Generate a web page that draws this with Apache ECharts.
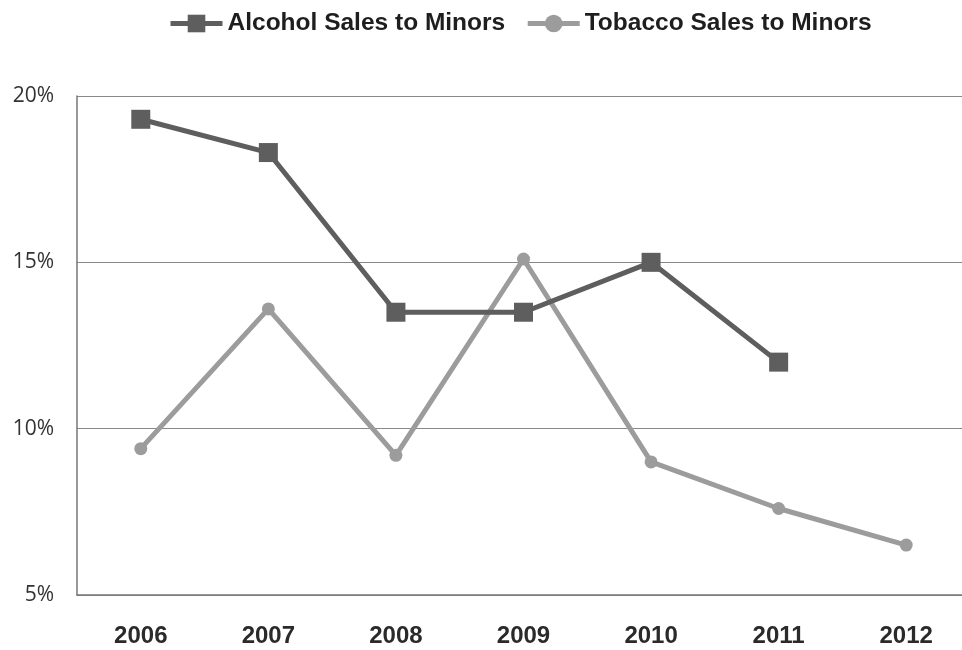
<!DOCTYPE html>
<html>
<head>
<meta charset="utf-8">
<script src="https://cdn.jsdelivr.net/npm/echarts@6/dist/echarts.min.js"></script>
<style>
  html, body { margin: 0; padding: 0; background: #fff; overflow: hidden; }
  #chart { width: 962px; height: 650px; }
</style>
</head>
<body>
<div id="chart"></div>
<script>
// Share of compliance checks resulting in a sale to minors, by year
const years = ['2006', '2007', '2008', '2009', '2010', '2011', '2012'];
const alcoholSales = [19.3, 18.3, 13.5, 13.5, 15.0, 12.0, null];
const tobaccoSales = [9.4, 13.6, 9.2, 15.1, 9.0, 7.6, 6.5];
const yTicks = [5, 10, 15, 20];

const chart = echarts.init(document.getElementById('chart'));
chart.setOption({
  animation: false,
  backgroundColor: '#ffffff',
  legend: {
    top: 6,
    left: 163,
    itemWidth: 52,
    itemHeight: 22,
    itemGap: 20,
    lineStyle: { width: 5 },
    textStyle: {
      fontFamily: 'Liberation Sans, Arial, sans-serif',
      fontWeight: 'bold',
      fontSize: 24.5,
      color: '#1e1e1e'
    },
    data: ['Alcohol Sales to Minors', 'Tobacco Sales to Minors']
  },
  grid: { left: 77, width: 893, top: 96, bottom: 55, outerBoundsMode: 'none' },
  xAxis: {
    type: 'category',
    data: years,
    boundaryGap: true,
    axisLine: { lineStyle: { color: '#777', width: 1.5 } },
    axisTick: { alignWithLabel: true, length: 4, lineStyle: { color: '#888' } },
    axisLabel: {
      margin: 29,
      fontFamily: 'Liberation Sans, Arial, sans-serif',
      fontWeight: 'bold',
      fontSize: 24,
      color: '#2a2a2a'
    }
  },
  yAxis: {
    type: 'value',
    min: yTicks[0],
    max: yTicks[yTicks.length - 1],
    interval: 5,
    axisLine: { show: true, lineStyle: { color: '#777', width: 1.5 } },
    axisTick: { show: false },
    splitLine: { lineStyle: { color: '#888', width: 1.2 } },
    axisLabel: {
      margin: 23,
      fontFamily: 'Open Sans, Noto Sans, sans-serif',
      fontSize: 21,
      color: '#333',
      formatter: v => v + '%'
    }
  },
  series: [
    {
      name: 'Alcohol Sales to Minors',
      type: 'line',
      data: alcoholSales,
      symbol: 'rect',
      symbolSize: 19,
      lineStyle: { color: '#5e5e5e', width: 5 },
      itemStyle: { color: '#5e5e5e' },
      z: 3
    },
    {
      name: 'Tobacco Sales to Minors',
      type: 'line',
      data: tobaccoSales,
      symbol: 'circle',
      symbolSize: 13,
      lineStyle: { color: '#9c9c9c', width: 5 },
      itemStyle: { color: '#9c9c9c' },
      z: 2
    }
  ]
});
</script>
</body>
</html>
